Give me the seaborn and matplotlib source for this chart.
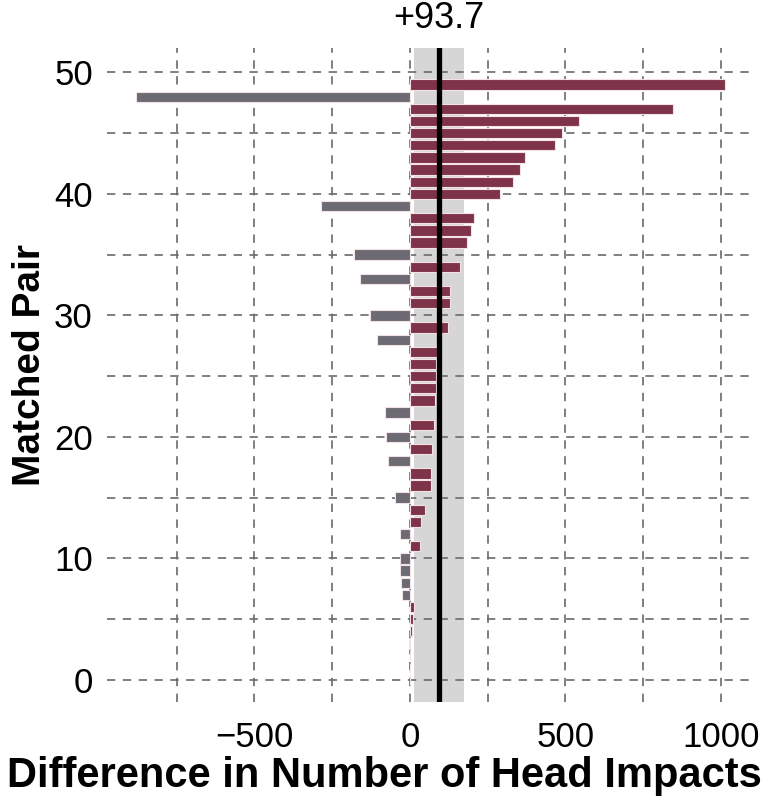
import numpy as np
import pandas as pd
import seaborn as sns
import matplotlib.pyplot as plt
from matplotlib.ticker import MultipleLocator

sns.set_theme(style='white')
plt.rcParams['font.family'] = ['Liberation Sans', 'DejaVu Sans']
plt.rcParams['text.color'] = 'black'
plt.rcParams['axes.labelcolor'] = 'black'

# matched pair index (bottom to top) and difference in head impacts
pair = list(range(50))
diff = [0.5, 1, 2, -3, 8, 11, 14, -24, -30, -31,
        -32, 32, -33, 36, 48, -49, 67, 67, -70, 72,
        -76, 79, -80, 82, 83, 84, 85, 86, -106, 123,
        -127, 129, 129, -159, 161, -180, 184, 197, 207, -285,
        291, 333, 353, 369, 468, 488, 544, 848, -880, 1013]

mean_diff = 93.7
ci_low = 13.7
ci_high = 173.7

RED = '#8b2642'
GREY = '#6b6874'

df = pd.DataFrame({'pair': pair, 'diff': diff})
df['sign'] = np.where(df['diff'] > 0, 'more', 'fewer')

fig = plt.figure(figsize=(7.68, 8.02), dpi=100)
ax = fig.add_axes([0.139, 0.125, 0.844, 0.815])
ax.set_axisbelow(True)

# confidence band behind everything
ax.axvspan(ci_low, ci_high, color='#d6d6d6', lw=0, zorder=0)

sns.barplot(data=df, x='diff', y='pair', hue='sign', orient='y',
            native_scale=True, dodge=False,
            palette={'more': RED, 'fewer': GREY},
            width=0.85, edgecolor='#f2e2e6', linewidth=0.8,
            legend=False, ax=ax)

ax.axvline(mean_diff, color='black', lw=3.8, zorder=3)

ax.set_xlim(-975, 1110)
ax.set_ylim(-1.8, 52)
ax.xaxis.set_major_locator(MultipleLocator(500))
ax.xaxis.set_minor_locator(MultipleLocator(250))
ax.yaxis.set_major_locator(MultipleLocator(10))
ax.yaxis.set_minor_locator(MultipleLocator(5))
ax.grid(which='both', color='#6a6a6a', linestyle=(0, (5, 4.5)), lw=1.2)
for s in ax.spines.values():
    s.set_visible(False)
ax.tick_params(which='major', length=7, width=1.2, color='#6a6a6a',
               labelsize=25, labelcolor='black')
ax.tick_params(axis='x', which='major', pad=7)
ax.tick_params(axis='y', which='major', pad=3)
ax.tick_params(which='minor', length=0)

ax.annotate(f'+{mean_diff}', xy=(mean_diff, 1), xycoords=('data', 'axes fraction'),
            xytext=(0, 9), textcoords='offset points',
            ha='center', va='bottom', fontsize=26, color='black')

ax.set_xlabel('Difference in Number of Head Impacts', fontsize=30,
              fontweight='bold', color='black')
ax.set_ylabel('Matched Pair', fontsize=28, fontweight='bold', color='black')
ax.xaxis.set_label_coords(0.429, -0.083)
ax.yaxis.set_label_coords(-0.09, 0.515)

fig.savefig('out.png', dpi=100)
